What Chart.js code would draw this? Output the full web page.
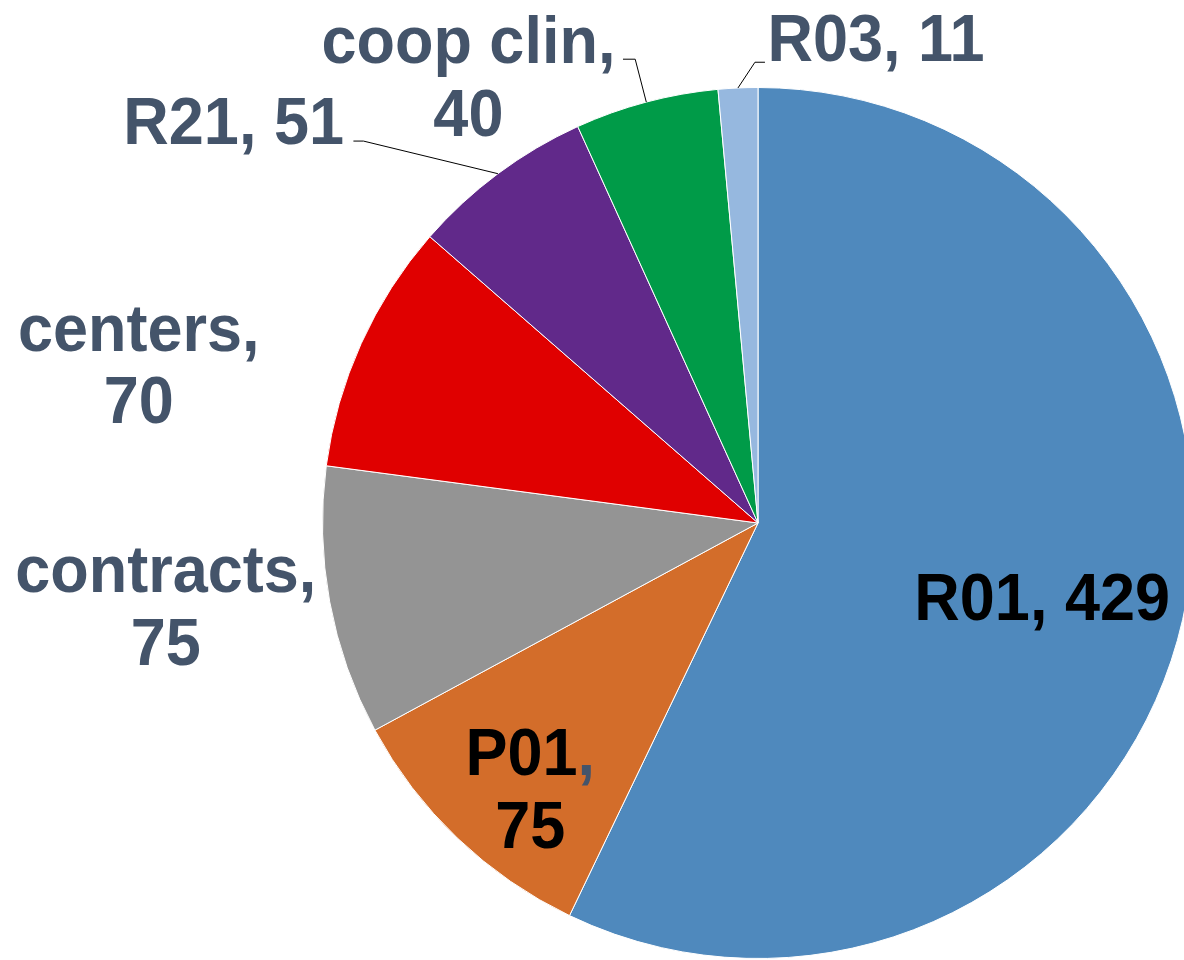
<!DOCTYPE html>
<html>
<head>
<meta charset="utf-8">
<script src="https://cdn.jsdelivr.net/npm/chart.js@4.4.1/dist/chart.umd.min.js"></script>
<style>
  html, body { margin: 0; padding: 0; background: #fff; overflow: hidden; }
  #wrap { position: absolute; left: 0; top: 0; width: 1200px; height: 960px; }
</style>
</head>
<body>
<div id="wrap"><canvas id="pie" width="1200" height="960"></canvas></div>
<script>
// datos
const categories = ['R01', 'P01', 'contracts', 'centers', 'R21', 'coop clin', 'R03'];
const counts = [429, 75, 75, 70, 51, 40, 11];
const sliceColors = ['#4F89BD', '#D36D2A', '#949494', '#E00000', '#61298A', '#009B48', '#96B8DF'];

// posicion de etiquetas, en radios desde el centro (x = centro del texto, y = primera linea base)
const labelSpots = [
  { dx: 0.6525, dy: 0.2236, wrap: false, color: '#000000' },
  { dx: -0.523, dy: 0.579, wrap: true, color: '#000000', commaColor: '#44546A' },
  { dx: -1.360, dy: 0.159, wrap: true, color: '#44546A' },
  { dx: -1.422, dy: -0.396, wrap: true, color: '#44546A' },
  { dx: -1.204, dy: -0.870, wrap: false, color: '#44546A', leader: [[-0.929, -0.877], [-0.906, -0.877]] },
  { dx: -0.665, dy: -1.056, wrap: true, color: '#44546A', leader: [[-0.310, -1.065], [-0.282, -1.065]] },
  { dx: 0.271, dy: -1.061, wrap: false, color: '#44546A', leader: [[0.016, -1.058], [-0.007, -1.058]] }
];
const lineGap = 0.1674;
const textStretch = 1.07;

const pieLabels = {
  id: 'pieLabels',
  afterDatasetsDraw(chart) {
    const ctx = chart.ctx;
    const arcs = chart.getDatasetMeta(0).data;
    ctx.save();
    ctx.font = 'bold 63px "Liberation Sans", Arial, sans-serif';
    ctx.textBaseline = 'alphabetic';
    ctx.textAlign = 'left';
    arcs.forEach((arc, i) => {
      const p = arc.getProps(['x', 'y', 'outerRadius', 'startAngle', 'endAngle'], true);
      const r = p.outerRadius;
      const spot = labelSpots[i];

      // linea guia
      if (spot.leader) {
        const mid = (p.startAngle + p.endAngle) / 2;
        ctx.beginPath();
        ctx.moveTo(p.x + spot.leader[0][0] * r, p.y + spot.leader[0][1] * r);
        ctx.lineTo(p.x + spot.leader[1][0] * r, p.y + spot.leader[1][1] * r);
        ctx.lineTo(p.x + Math.cos(mid) * r, p.y + Math.sin(mid) * r);
        ctx.strokeStyle = '#000000';
        ctx.lineWidth = 1;
        ctx.stroke();
      }

      const lines = spot.wrap
        ? [categories[i] + ',', String(counts[i])]
        : [categories[i] + ', ' + counts[i]];

      lines.forEach((line, li) => {
        const parts = line.split(/(,)/).filter(s => s.length);
        const total = ctx.measureText(line).width;
        let cx = p.x + spot.dx * r - total / 2;
        const by = p.y + (spot.dy + li * lineGap) * r;
        parts.forEach(part => {
          ctx.fillStyle = part === ',' ? (spot.commaColor || spot.color) : spot.color;
          ctx.save();
          ctx.translate(cx, by);
          ctx.scale(1, textStretch);
          ctx.fillText(part, 0, 0);
          ctx.restore();
          cx += ctx.measureText(part).width;
        });
      });
    });
    ctx.restore();
  }
};

new Chart(document.getElementById('pie').getContext('2d'), {
  type: 'pie',
  data: {
    labels: categories,
    datasets: [{
      data: counts,
      backgroundColor: sliceColors,
      borderColor: '#ffffff',
      borderWidth: 1
    }]
  },
  options: {
    responsive: false,
    animation: false,
    layout: { padding: { left: 322, right: 6, top: 87, bottom: 1 } },
    plugins: {
      legend: { display: false },
      tooltip: { enabled: false }
    }
  },
  plugins: [pieLabels]
});
</script>
</body>
</html>
